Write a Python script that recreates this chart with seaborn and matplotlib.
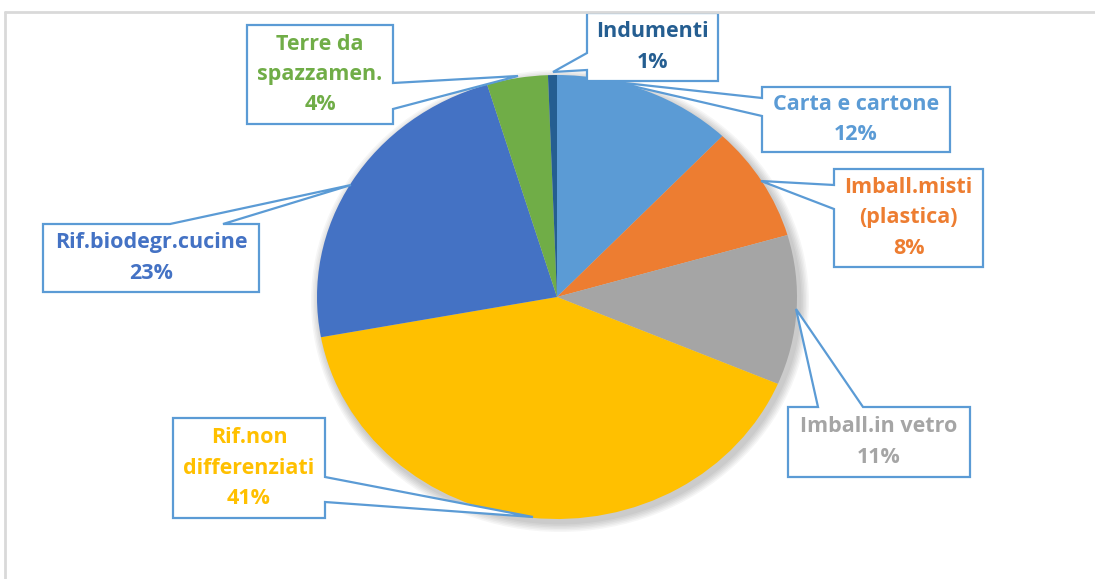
import numpy as np
import seaborn as sns
import matplotlib.pyplot as plt
from matplotlib.patches import Polygon, Ellipse
from matplotlib.lines import Line2D

sns.set_theme(style='white')
plt.rcParams['font.family'] = ['Open Sans', 'DejaVu Sans']

# data (shares, clockwise from 12 o'clock)
categories = ['Carta e cartone', 'Imball.misti\n(plastica)', 'Imball.in vetro',
              'Rif.non\ndifferenziati', 'Rif.biodegr.cucine', 'Terre da\nspazzamen.', 'Indumenti']
shares = [12.1, 8.4, 10.9, 40.7, 23.2, 4.1, 0.6]
colors = ['#5B9BD5', '#ED7D31', '#A5A5A5', '#FFC000', '#4472C4', '#70AD47', '#255E91']

# callout layout in pixels: box (x0, y0, x1, y1), side of pointer, pointer base, pointer tip
callouts = [
    ((762, 87, 950, 152), 'left', (98, 116), (615, 82)),
    ((834, 169, 983, 267), 'left', (185, 209), (761, 181)),
    ((788, 407, 970, 477), 'top', (818, 863), (796, 309)),
    ((173, 418, 325, 518), 'right', (477, 502), (533, 517)),
    ((43, 224, 259, 292), 'top', (170, 223), (351, 185)),
    ((247, 25, 393, 124), 'right', (83, 109), (518, 76)),
    ((587, 13, 718, 81), 'left', (53, 70), (553, 72)),
]

W, H = 1095, 579
CX, CY, RX, RY = 557, 297, 240, 222


def to_data(px, py):
    return (px - CX) / RX, (CY - py) / RY


fig = plt.figure(figsize=(W / 100, H / 100), dpi=100)
ax = fig.add_axes([0, 0, 1, 1])

# soft shadow behind the pie
for i in range(6):
    grow = (i + 1) * 1.5
    ax.add_patch(Ellipse(to_data(CX + 3, CY + 4), 2 * (RX + grow) / RX, 2 * (RY + grow) / RY,
                         color='black', alpha=0.035, lw=0, zorder=0))

ax.pie(shares, colors=colors, startangle=90, counterclock=False, radius=1,
       wedgeprops=dict(linewidth=0), normalize=True)
ax.set_aspect('auto')
x0, _ = to_data(0, 0)
x1, _ = to_data(W, 0)
_, y0 = to_data(0, H)
_, y1 = to_data(0, 0)
ax.set_xlim(x0, x1)
ax.set_ylim(y0, y1)
ax.axis('off')

for name, share, col, (box, side, base, tip) in zip(categories, shares, colors, callouts):
    bx0, by0, bx1, by1 = box
    a, b = base
    pts = [(bx0, by0)]
    if side == 'top':
        pts += [(a, by0), tip, (b, by0)]
    pts += [(bx1, by0)]
    if side == 'right':
        pts += [(bx1, a), tip, (bx1, b)]
    pts += [(bx1, by1), (bx0, by1)]
    if side == 'left':
        pts += [(bx0, b), tip, (bx0, a)]
    poly = Polygon([to_data(*p) for p in pts], closed=True, fc='white',
                   ec='#5B9BD5', lw=1.6, zorder=5)
    ax.add_patch(poly)
    tx, ty = to_data((bx0 + bx1) / 2, (by0 + by1) / 2)
    ax.text(tx, ty, f'{name}\n{round(share)}%', ha='center', va='center',
            color=col, fontsize=15.5, fontweight='bold', linespacing=1.58, zorder=6)

# chart area frame
fig.add_artist(Line2D([5 / W, 5 / W], [0, 1 - 12 / H], color='#D9D9D9', lw=2))
fig.add_artist(Line2D([5 / W, 1], [1 - 12 / H, 1 - 12 / H], color='#D9D9D9', lw=2))

fig.savefig('out.png', dpi=100)
